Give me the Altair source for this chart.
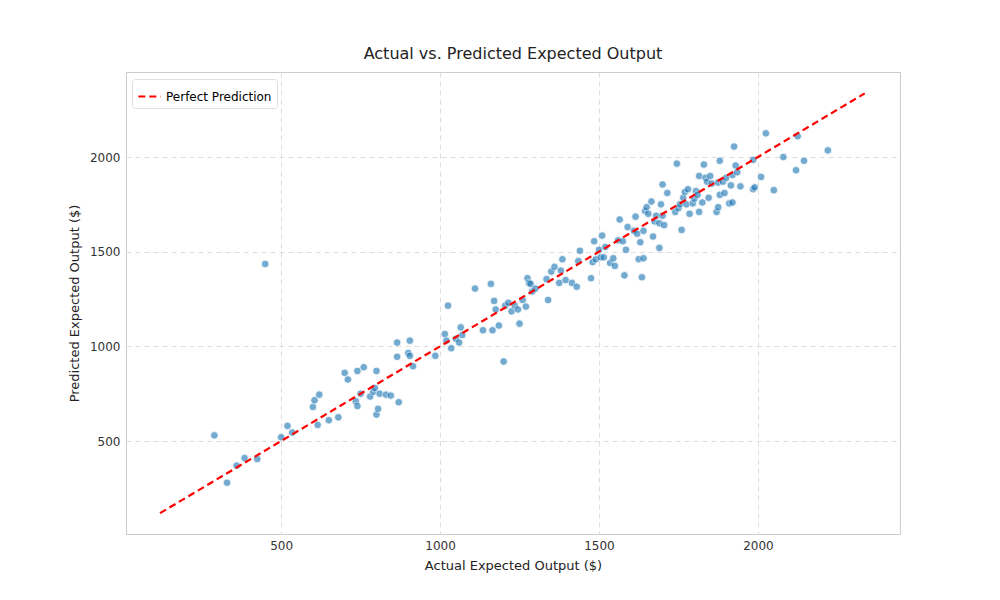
import pandas as pd
import altair as alt

# actual vs predicted points
actual = [290, 330, 360, 385, 425, 450, 500, 520, 535, 600, 605, 615, 620, 650, 680, 700, 710, 735, 740, 740,
          750, 760, 780, 790, 795, 800, 800, 805, 810, 830, 845, 865, 865, 870, 900, 905, 905, 915, 985, 1015,
          1020, 1025, 1035, 1050, 1060, 1065, 1070, 1110, 1135, 1160, 1165, 1170, 1175, 1185, 1200, 1205, 1215,
          1225, 1235, 1245, 1250, 1260, 1270, 1275, 1280, 1285, 1290, 1300, 1335, 1340, 1350, 1360, 1375, 1380,
          1385, 1395, 1415, 1430, 1435, 1440, 1475, 1480, 1485, 1490, 1500, 1505, 1510, 1515, 1520, 1535, 1545,
          1550, 1560, 1565, 1575, 1580, 1585, 1590, 1610, 1615, 1620, 1625, 1630, 1635, 1640, 1640, 1645, 1650,
          1655, 1665, 1670, 1675, 1680, 1690, 1690, 1695, 1700, 1700, 1705, 1715, 1740, 1745, 1750, 1755, 1760,
          1765, 1770, 1775, 1780, 1785, 1795, 1800, 1805, 1810, 1815, 1815, 1825, 1830, 1835, 1840, 1845, 1850,
          1855, 1870, 1875, 1875, 1880, 1880, 1890, 1895, 1900, 1910, 1915, 1920, 1920, 1925, 1930, 1935, 1945,
          1985, 1985, 1990, 2010, 2025, 2050, 2080, 2120, 2125, 2145, 2220]
predicted = [530, 280, 370, 410, 405, 1435, 520, 580, 545, 680, 715, 585, 745, 610, 625, 860, 825, 710, 870, 685,
             750, 890, 735, 760, 780, 640, 870, 670, 750, 745, 740, 945, 1020, 705, 965, 1030, 950, 895, 950, 1065,
             1030, 1215, 990, 1040, 1020, 1100, 1060, 1305, 1085, 1330, 1085, 1240, 1195, 1110, 920, 1215, 1230,
             1185, 1215, 1195, 1120, 1245, 1210, 1360, 1335, 1330, 1290, 1305, 1355, 1245, 1395, 1420, 1335, 1400,
             1460, 1350, 1335, 1315, 1450, 1505, 1360, 1445, 1555, 1460, 1510, 1470, 1585, 1470, 1525, 1440, 1465,
             1425, 1560, 1670, 1555, 1375, 1510, 1630, 1610, 1685, 1595, 1460, 1550, 1365, 1465, 1610, 1715, 1735,
             1700, 1765, 1580, 1660, 1690, 1520, 1650, 1750, 1855, 1690, 1640, 1810, 1710, 1965, 1730, 1750, 1615,
             1785, 1815, 1750, 1830, 1700, 1755, 1780, 1820, 1800, 1900, 1710, 1760, 1960, 1890, 1870, 1785, 1900,
             1860, 1710, 1735, 1865, 1980, 1800, 1870, 1810, 1890, 1755, 1850, 1760, 1905, 2055, 1955, 1920, 1845,
             1830, 1985, 1840, 1895, 2125, 1825, 2000, 1930, 2110, 1980, 2035]

line_ends = [119, 2336]

pts = pd.DataFrame({"actual": actual, "predicted": predicted})
ref = pd.DataFrame({"actual": line_ends, "predicted": line_ends, "label": ["Perfect Prediction"] * 2})

xs = alt.Scale(domain=[12, 2447], nice=False, zero=False)
ys = alt.Scale(domain=[9, 2449], nice=False, zero=False)

scatter = alt.Chart(pts).mark_circle(size=58, color="#1f77b4", opacity=0.62,
                                     stroke="white", strokeWidth=0.8).encode(
    x=alt.X("actual:Q", scale=xs, title="Actual Expected Output ($)",
            axis=alt.Axis(values=[500, 1000, 1500, 2000], format="d")),
    y=alt.Y("predicted:Q", scale=ys, title="Predicted Expected Output ($)",
            axis=alt.Axis(values=[500, 1000, 1500, 2000], format="d")),
)

line = alt.Chart(ref).mark_line(strokeDash=[7, 4], strokeWidth=2.2).encode(
    x="actual:Q",
    y="predicted:Q",
    color=alt.Color("label:N", scale=alt.Scale(range=["#ff0000"]),
                    legend=alt.Legend(title=None, orient="none", legendX=6, legendY=7,
                                      symbolType="stroke", symbolDash=[7, 4], symbolStrokeWidth=2.2,
                                      symbolSize=500, labelFontSize=12, padding=5,
                                      fillColor="white", strokeColor="#dddddd", cornerRadius=3)),
)

chart = (scatter + line).properties(
    width=774, height=462,
    title=alt.Title("Actual vs. Predicted Expected Output", fontSize=16, fontWeight="normal",
                    offset=10, color="#222222"),
    padding={"left": 118, "top": 64, "right": 92, "bottom": 50},
    autosize=alt.AutoSizeParams(type="none"),
).configure(font="DejaVu Sans").configure_view(stroke="#cccccc").configure_axis(
    grid=True, gridDash=[5, 4], gridColor="#dddddd", domain=False, ticks=False,
    labelFontSize=12, titleFontSize=13, labelColor="#333333", titleColor="#222222",
    titleFontWeight="normal", labelPadding=6, titlePadding=8,
)

chart.save("out.html", embed_options={"renderer": "svg", "actions": False})
